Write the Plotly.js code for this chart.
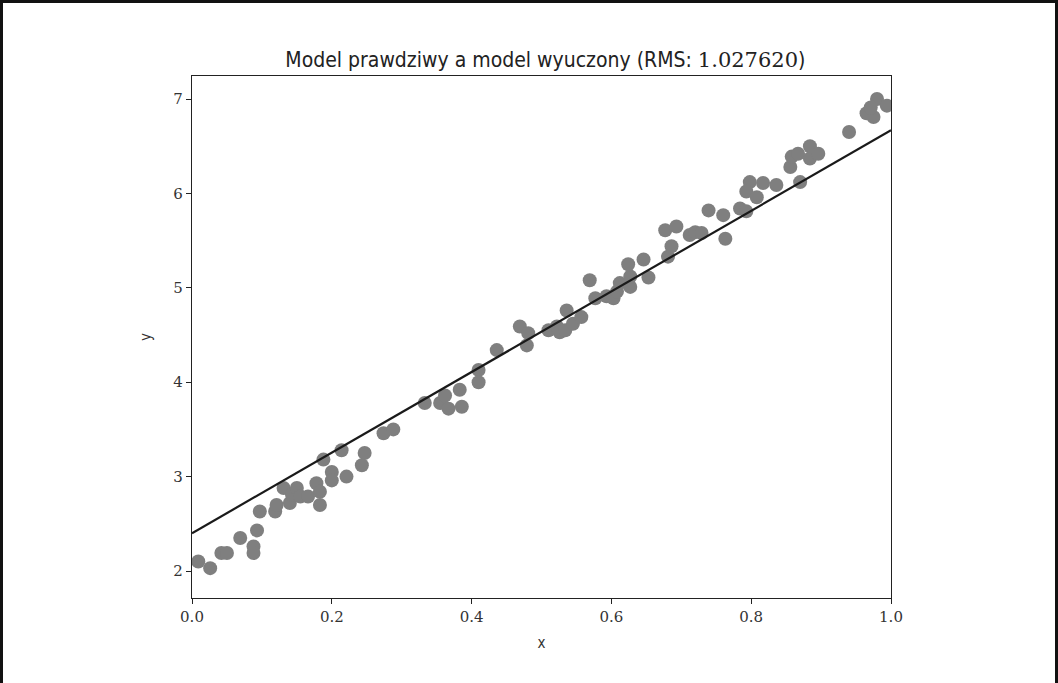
<!DOCTYPE html>
<html>
<head>
<meta charset="utf-8">
<script src="https://cdn.plot.ly/plotly-3.0.1.min.js"></script>
<style>
html,body{margin:0;padding:0;background:#fff;}
#frame{position:absolute;left:0;top:0;width:1052px;height:683px;border-top:3px solid #111;border-left:3px solid #111;border-right:3px solid #111;}
#chart{position:absolute;left:0;top:0;width:1058px;height:683px;}
</style>
</head>
<body>
<div id="chart"></div>
<div id="frame"></div>
<script>
const titleText = 'Model prawdziwy a model wyuczony (RMS: <span style="font-family:\'DejaVu Serif\', serif">1.027620</span>)';
const xLabel = 'x';
const yLabel = 'y';

const pointsX = [0.009,0.026,0.042,0.050,0.069,0.088,0.088,0.093,0.097,0.119,0.121,0.131,0.140,0.143,0.150,0.155,0.166,0.178,0.183,0.183,0.188,0.200,0.200,0.221,0.214,0.243,0.247,0.274,0.288,0.333,0.355,0.362,0.367,0.383,0.386,0.410,0.410,0.436,0.469,0.481,0.479,0.510,0.522,0.526,0.534,0.536,0.545,0.557,0.569,0.577,0.593,0.603,0.608,0.612,0.627,0.627,0.624,0.646,0.653,0.681,0.686,0.677,0.693,0.712,0.720,0.729,0.739,0.760,0.763,0.784,0.793,0.798,0.793,0.808,0.817,0.836,0.870,0.856,0.858,0.867,0.884,0.884,0.896,0.940,0.965,0.975,0.980,0.994,0.971];
const pointsY = [2.10,2.03,2.19,2.19,2.35,2.26,2.19,2.43,2.63,2.63,2.70,2.88,2.72,2.81,2.88,2.79,2.79,2.93,2.84,2.70,3.18,3.05,2.96,3.00,3.28,3.12,3.25,3.46,3.50,3.78,3.78,3.86,3.72,3.92,3.74,4.13,4.00,4.34,4.59,4.52,4.39,4.55,4.59,4.53,4.55,4.76,4.62,4.69,5.08,4.89,4.91,4.89,4.96,5.05,5.01,5.12,5.25,5.30,5.11,5.33,5.44,5.61,5.65,5.56,5.59,5.58,5.82,5.77,5.52,5.84,5.81,6.12,6.02,5.96,6.11,6.09,6.12,6.28,6.39,6.42,6.50,6.37,6.42,6.65,6.85,6.81,7.00,6.93,6.91];

const modelX = [0.0, 1.0];
const modelY = [2.40, 6.67];

const xTicks = [0, 0.2, 0.4, 0.6, 0.8, 1.0];
const xTickText = ['0.0','0.2','0.4','0.6','0.8','1.0'];
const yTicks = [2, 3, 4, 5, 6, 7];
const yTickText = ['2','3','4','5','6','7'];

const traces = [
  {x: pointsX, y: pointsY, type: 'scatter', mode: 'markers',
   marker: {color: '#7f7f7f', size: 14, line: {width: 0}}, cliponaxis: true, hoverinfo: 'skip'},
  {x: modelX, y: modelY, type: 'scatter', mode: 'lines',
   line: {color: '#1a1a1a', width: 2.2}, hoverinfo: 'skip'}
];

const tickFont = {family: "'DejaVu Serif', 'Liberation Serif', serif", size: 15, color: '#333'};
const labelFont = {family: "'DejaVu Sans Condensed', 'DejaVu Sans', sans-serif", size: 15, color: '#333'};

const layout = {
  width: 1058, height: 683,
  paper_bgcolor: '#fff', plot_bgcolor: '#fff',
  showlegend: false,
  margin: {l: 192, r: 167, t: 76, b: 85},
  title: {text: titleText, x: 0.5155, xanchor: 'center', y: 1 - 60/683, yanchor: 'middle',
          font: {family: "'DejaVu Sans Condensed', 'DejaVu Sans', sans-serif", size: 21, color: '#222'}},
  xaxis: {range: [0, 1], tickvals: xTicks, ticktext: xTickText, ticks: 'outside', ticklen: 5,
          tickwidth: 1, tickcolor: '#222', showgrid: false, zeroline: false, showline: true,
          linecolor: '#222', linewidth: 1.2, mirror: true, tickfont: tickFont,
          title: {text: xLabel, font: labelFont, standoff: 12}},
  yaxis: {range: [1.714, 7.244], tickvals: yTicks, ticktext: yTickText, ticks: 'outside', ticklen: 5,
          tickwidth: 1, tickcolor: '#222', showgrid: false, zeroline: false, showline: true,
          linecolor: '#222', linewidth: 1.2, mirror: true, tickfont: tickFont,
          title: {text: yLabel, font: labelFont, standoff: 18}}
};

Plotly.newPlot('chart', traces, layout, {staticPlot: true, displayModeBar: false});
</script>
</body>
</html>
